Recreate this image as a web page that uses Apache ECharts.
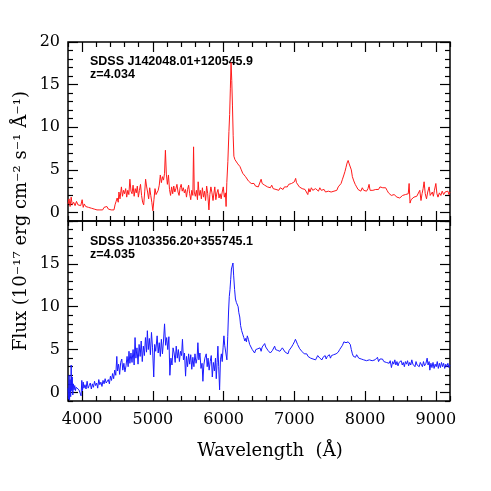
<!DOCTYPE html>
<html>
<head>
<meta charset="utf-8">
<script src="https://cdn.jsdelivr.net/npm/echarts@6/dist/echarts.min.js"></script>
<style>
  * { margin: 0; padding: 0; }
  body { background: #fff; }
</style>
</head>
<body>
<div id="main" style="width: 491px; height: 491px;"></div>
<script>
// spectrum 1 (top, red)
var wave1 = [3800,3815,3830,3845,3860,3880,3900,3920,3940,3960,3980,4000,4015,4030,4050,4070,4090,4110,4130,4150,4170,4190,4210,4230,4250,4270,4290,4310,4330,4350,4370,4390,4410,4430,4450,4465,4480,4495,4510,4520,4535,4555,4570,4585,4600,4615,4630,4645,4660,4675,4690,4705,4720,4735,4750,4765,4780,4795,4810,4825,4840,4855,4870,4885,4897,4910,4925,4940,4955,4970,4985,5000,5015,5030,5045,5060,5075,5090,5105,5120,5135,5150,5165,5177,5190,5205,5220,5235,5250,5265,5280,5295,5310,5325,5340,5355,5370,5385,5400,5415,5430,5445,5460,5475,5490,5505,5520,5535,5550,5565,5575,5585,5600,5615,5630,5640,5655,5670,5685,5700,5715,5730,5745,5760,5775,5792,5805,5820,5835,5850,5865,5875,5890,5905,5920,5935,5950,5965,5980,5995,6010,6025,6035,6045,6060,6075,6085,6095,6105,6115,6125,6135,6145,6160,6180,6200,6215,6230,6250,6270,6290,6310,6330,6350,6370,6390,6410,6430,6450,6470,6490,6510,6530,6545,6560,6580,6600,6620,6640,6660,6680,6700,6720,6740,6760,6780,6800,6820,6840,6860,6880,6900,6920,6940,6960,6980,7000,7018,7030,7050,7070,7090,7110,7130,7150,7170,7190,7205,7220,7240,7260,7280,7300,7320,7340,7360,7380,7400,7420,7440,7460,7480,7500,7520,7540,7560,7580,7600,7620,7640,7660,7680,7700,7715,7730,7745,7760,7775,7790,7805,7820,7840,7860,7880,7900,7920,7940,7960,7980,8000,8020,8040,8056,8070,8090,8110,8130,8150,8170,8190,8210,8230,8250,8270,8290,8310,8330,8350,8370,8390,8410,8430,8450,8470,8490,8510,8530,8550,8570,8590,8610,8622,8635,8650,8670,8690,8710,8730,8750,8773,8790,8805,8820,8834,8850,8868,8885,8905,8920,8935,8950,8965,8980,9000,9015,9030,9050,9070,9090,9110,9130,9150,9170,9185,9200];
var flux1 = [1.0,1.6,0.7,1.8,0.9,1.2,0.8,1.3,0.9,1.1,0.8,1.5,0.6,1.0,0.7,0.9,0.6,0.8,0.5,0.6,0.4,0.5,0.3,0.4,0.3,0.4,0.3,0.6,0.5,0.7,0.4,0.5,0.3,0.4,0.3,0.9,1.3,1.7,1.2,2.4,1.6,3.0,1.9,2.6,2.2,2.8,1.8,2.6,2.1,3.9,2.5,2.2,3.2,1.9,2.8,2.3,3.1,1.8,2.6,3.3,2.0,1.2,0.9,2.5,3.9,3.1,2.4,1.6,2.9,2.0,1.2,0.2,1.5,2.8,2.1,2.3,2.6,3.2,4.4,3.5,4.2,3.8,4.6,7.3,4.5,3.3,4.4,2.7,2.0,3.0,2.2,3.1,2.4,2.8,3.3,2.4,2.0,2.9,3.3,2.5,2.9,2.3,2.7,1.8,2.7,3.2,2.2,1.5,2.6,2.0,7.7,2.4,1.9,2.6,1.5,3.6,2.0,2.6,1.6,2.9,1.8,2.5,1.4,3.1,2.2,0.3,2.1,3.0,2.3,1.4,2.4,3.0,1.5,2.3,2.7,1.7,2.2,1.6,2.4,3.0,1.8,2.3,0.7,3.5,6.0,9.5,11.5,14.5,17.6,15.5,12.5,9.0,6.6,6.2,6.3,5.7,5.9,5.4,5.0,4.6,4.5,4.2,4.0,3.7,3.7,3.4,3.2,3.4,3.1,3.3,3.0,3.2,3.9,3.4,3.5,3.2,3.3,3.0,3.1,2.9,3.2,2.8,3.0,2.7,2.9,2.6,2.9,3.0,2.7,3.0,3.1,3.0,3.3,3.1,3.4,3.3,3.6,4.0,3.5,3.3,3.0,3.1,2.8,3.0,2.7,2.9,2.1,2.8,2.4,2.9,2.6,2.4,2.8,2.6,2.5,2.9,2.6,2.5,2.7,2.4,2.6,2.5,2.7,2.4,2.6,2.5,2.7,2.6,3.0,3.1,3.4,3.9,4.4,4.8,5.3,5.8,6.1,5.7,5.9,5.0,4.2,3.7,3.3,3.0,2.7,2.8,2.5,2.9,2.6,2.7,2.5,2.8,3.3,2.6,2.4,2.6,2.5,2.7,2.9,2.7,3.0,2.8,2.9,2.7,2.9,2.6,2.3,2.2,2.0,1.8,2.1,1.9,1.8,2.0,1.7,1.9,2.0,1.8,2.1,1.9,2.2,3.4,1.1,1.5,1.7,1.8,1.7,1.9,1.8,2.6,1.4,2.2,2.8,3.6,2.2,1.6,2.4,3.0,2.0,1.8,2.4,1.9,2.6,3.4,2.2,1.8,2.3,2.0,2.5,2.1,2.4,2.2,2.5,2.1,2.4];

// spectrum 2 (bottom, blue)
var wave2 = [3800,3808,3815,3822,3830,3838,3845,3852,3860,3868,3876,3885,3895,3905,3915,3925,3940,3955,3970,3985,3995,4005,4015,4025,4040,4055,4070,4085,4100,4115,4130,4145,4160,4175,4190,4205,4220,4235,4250,4265,4280,4295,4310,4325,4340,4355,4370,4385,4400,4415,4430,4445,4460,4475,4490,4500,4515,4530,4545,4560,4575,4590,4605,4620,4635,4650,4662,4675,4690,4705,4720,4735,4748,4760,4775,4790,4805,4820,4835,4850,4865,4880,4895,4910,4922,4935,4950,4965,4980,4995,5012,5025,5040,5060,5075,5090,5105,5120,5135,5150,5165,5180,5195,5210,5226,5240,5255,5270,5285,5300,5315,5330,5345,5360,5375,5390,5405,5418,5432,5447,5462,5475,5490,5505,5520,5535,5550,5565,5580,5595,5610,5625,5636,5650,5665,5680,5695,5707,5720,5735,5754,5768,5780,5795,5810,5825,5840,5855,5870,5885,5896,5908,5919,5930,5943,5955,5968,5980,5992,6004,6015,6030,6046,6058,6070,6080,6090,6100,6110,6122,6132,6142,6155,6167,6180,6195,6205,6215,6228,6240,6255,6270,6285,6300,6312,6322,6335,6350,6368,6385,6405,6420,6438,6455,6470,6485,6500,6515,6530,6545,6565,6580,6595,6610,6627,6645,6660,6674,6690,6705,6721,6735,6750,6765,6780,6795,6810,6830,6853,6870,6890,6910,6925,6940,6960,6981,7000,7015,7028,7045,7060,7075,7090,7105,7122,7140,7160,7175,7193,7210,7230,7250,7264,7280,7300,7315,7330,7345,7360,7375,7390,7405,7420,7435,7450,7465,7480,7495,7510,7525,7540,7555,7570,7590,7605,7620,7640,7660,7680,7700,7715,7730,7745,7760,7775,7790,7805,7820,7835,7850,7865,7880,7895,7910,7925,7945,7960,7980,8000,8020,8040,8060,8080,8100,8120,8140,8160,8175,8190,8210,8225,8245,8265,8285,8300,8320,8340,8355,8372,8390,8405,8420,8435,8450,8465,8480,8495,8510,8525,8540,8555,8570,8585,8600,8615,8630,8645,8660,8675,8690,8705,8720,8735,8750,8765,8780,8795,8810,8825,8840,8860,8877,8890,8905,8915,8930,8945,8960,8975,8990,9005,9020,9035,9050,9065,9080,9095,9110,9125,9140,9155,9170,9185,9200];
var flux2 = [0.5,-0.8,2.0,-0.9,1.5,-0.5,3.2,0.2,1.8,-0.3,1.0,0.3,0.8,0.2,0.6,0.4,0.7,0.3,0.5,-0.4,1.4,0.2,1.2,0.5,0.9,0.4,1.3,0.5,0.8,1.1,0.4,1.0,0.6,1.3,0.8,1.1,0.5,1.5,0.9,1.2,0.7,1.4,1.0,1.6,1.1,1.3,1.5,1.0,1.9,1.4,2.2,1.6,2.6,2.0,4.2,2.5,3.3,2.1,3.5,3.9,2.6,3.4,2.4,3.1,4.2,3.0,4.8,3.4,4.6,3.5,5.0,3.2,6.4,4.0,5.2,3.3,5.6,4.2,6.0,3.6,5.4,4.3,6.4,4.7,7.2,5.0,6.3,4.4,7.0,5.2,1.8,5.6,4.8,6.6,4.6,5.8,4.2,6.2,4.5,6.0,8.0,5.5,6.4,5.0,6.5,2.0,4.0,3.2,5.2,4.6,3.5,5.4,4.0,5.0,3.6,4.8,4.3,6.2,3.8,4.6,1.9,4.2,3.0,4.5,3.3,4.4,2.7,4.1,3.0,4.5,3.4,4.0,5.8,3.8,4.6,2.8,3.4,1.3,3.2,4.0,4.5,3.0,4.0,2.6,3.6,4.3,1.8,3.5,2.5,4.0,1.6,3.5,5.4,3.0,0.3,3.8,4.5,3.6,5.2,6.6,5.5,5.6,3.8,6.5,9.5,11.2,12.0,13.2,14.4,14.6,15.1,13.6,12.0,10.9,10.5,10.3,10.0,9.3,8.8,7.8,7.2,6.8,6.4,6.0,6.3,5.9,6.6,6.2,5.6,5.4,5.0,5.2,4.6,5.0,4.8,5.1,4.9,5.2,4.8,5.3,5.1,5.7,5.3,5.2,4.9,5.1,4.6,4.4,4.9,5.0,5.4,5.0,5.2,4.9,5.1,4.8,5.0,5.2,5.0,4.7,4.9,4.5,4.9,5.1,5.3,5.6,5.9,6.2,6.2,5.6,5.4,5.1,4.9,4.8,4.6,4.5,4.4,4.5,4.2,4.3,4.0,4.2,3.9,4.1,3.8,4.0,4.3,4.1,4.0,4.2,3.8,4.1,4.0,4.3,3.9,4.2,4.1,4.4,4.0,4.3,4.2,4.4,4.3,4.5,4.4,4.7,5.0,5.2,5.5,5.9,6.0,5.8,6.0,5.9,6.0,5.6,5.0,4.5,4.2,4.4,4.1,4.4,4.2,4.0,4.2,3.9,4.1,3.8,3.9,3.7,3.9,3.8,4.0,3.7,3.9,3.8,4.0,4.1,3.6,3.9,3.7,3.9,3.6,3.8,3.5,3.6,3.4,3.7,2.9,3.6,3.3,3.8,3.2,3.6,3.1,3.5,3.3,3.7,3.2,3.5,3.0,3.6,3.3,3.7,3.1,3.5,3.2,3.8,3.3,3.5,3.0,3.6,3.2,3.4,3.0,3.5,3.3,3.0,3.6,3.1,3.4,4.0,3.2,3.6,2.6,3.4,2.9,3.5,2.8,3.3,3.0,3.6,2.8,3.4,2.9,3.5,3.0,3.4,2.8,3.3,3.0,3.4,2.9,3.2];

// axis ticks
var xMajor = [4000, 5000, 6000, 7000, 8000, 9000];
var xMinor = [3800,4200,4400,4600,4800,5200,5400,5600,5800,6200,6400,6600,6800,7200,7400,7600,7800,8200,8400,8600,8800,9200];
var yMajorTop = [0, 5, 10, 15, 20];
var yMajorBottom = [0, 5, 10, 15];
var yMinor = [-1,1,2,3,4,6,7,8,9,11,12,13,14,16,17,18,19];

var labelFont = {color: '#000', fontFamily: 'DejaVu Serif', fontSize: 16};

function zip(xs, ys) {
  return xs.map(function (x, i) { return [x, ys[i]]; });
}

function plain(v) { return String(v); }

function xAxis(grid, pos, vals, len, labels) {
  return {
    type: 'value', gridIndex: grid, position: pos, min: 3800, max: 9200,
    axisLine: {show: false, onZero: false},
    splitLine: {show: false},
    axisTick: {show: true, inside: true, length: len, customValues: vals, lineStyle: {color: '#000', width: 1.2}},
    axisLabel: labels ? Object.assign({show: true, customValues: vals, margin: 11, formatter: plain}, labelFont) : {show: false}
  };
}

function yAxis(grid, pos, vals, len, labels) {
  return {
    type: 'value', gridIndex: grid, position: pos, min: -1, max: 20,
    axisLine: {show: false, onZero: false},
    splitLine: {show: false},
    axisTick: {show: true, inside: true, length: len, customValues: vals, lineStyle: {color: '#000', width: 1.2}},
    axisLabel: labels ? Object.assign({show: true, customValues: labels, margin: 8, formatter: plain}, labelFont) : {show: false}
  };
}

var chart = echarts.init(document.getElementById('main'));
chart.setOption({
  animation: false,
  backgroundColor: '#fff',
  grid: [
    {left: 68, right: 41, top: 42, height: 179, show: true, borderColor: '#000', borderWidth: 1.5, backgroundColor: 'transparent'},
    {left: 68, right: 41, top: 221, height: 180, show: true, borderColor: '#000', borderWidth: 1.5, backgroundColor: 'transparent'}
  ],
  xAxis: [
    xAxis(0, 'bottom', xMajor, 10, false),
    xAxis(0, 'bottom', xMinor, 5, false),
    xAxis(0, 'top', xMajor, 10, false),
    xAxis(0, 'top', xMinor, 5, false),
    xAxis(1, 'bottom', xMajor, 10, true),
    xAxis(1, 'bottom', xMinor, 5, false),
    xAxis(1, 'top', xMajor, 10, false),
    xAxis(1, 'top', xMinor, 5, false)
  ],
  yAxis: [
    yAxis(0, 'left', yMajorTop, 10, yMajorTop),
    yAxis(0, 'left', yMinor, 5, null),
    yAxis(0, 'right', yMajorTop, 10, null),
    yAxis(0, 'right', yMinor, 5, null),
    yAxis(1, 'left', yMajorTop, 10, yMajorBottom),
    yAxis(1, 'left', yMinor, 5, null),
    yAxis(1, 'right', yMajorTop, 10, null),
    yAxis(1, 'right', yMinor, 5, null)
  ],
  series: [
    {
      type: 'line', xAxisIndex: 0, yAxisIndex: 0, data: zip(wave1, flux1),
      showSymbol: false, lineStyle: {color: '#ff1a1a', width: 1}, silent: true
    },
    {
      type: 'line', xAxisIndex: 4, yAxisIndex: 4, data: zip(wave2, flux2),
      showSymbol: false, lineStyle: {color: '#1a1aff', width: 1}, silent: true
    }
  ],
  graphic: [
    {type: 'text', x: 90, y: 62, style: {text: 'SDSS J142048.01+120545.9', font: 'bold 12.5px "Liberation Sans"', fill: '#000', verticalAlign: 'middle'}},
    {type: 'text', x: 90, y: 75, style: {text: 'z=4.034', font: 'bold 12.5px "Liberation Sans"', fill: '#000', verticalAlign: 'middle'}},
    {type: 'text', x: 90, y: 242, style: {text: 'SDSS J103356.20+355745.1', font: 'bold 12.5px "Liberation Sans"', fill: '#000', verticalAlign: 'middle'}},
    {type: 'text', x: 90, y: 255, style: {text: 'z=4.035', font: 'bold 12.5px "Liberation Sans"', fill: '#000', verticalAlign: 'middle'}},
    {type: 'text', x: 21, y: 221, rotation: Math.PI / 2, style: {text: 'Flux (10⁻¹⁷ erg cm⁻² s⁻¹ Å⁻¹)', font: '18px "DejaVu Serif"', fill: '#000', align: 'center', verticalAlign: 'middle'}},
    {type: 'text', x: 270, y: 451, style: {text: 'Wavelength  (Å)', font: '18px "DejaVu Serif"', fill: '#000', align: 'center', verticalAlign: 'middle'}}
  ]
});
</script>
</body>
</html>
